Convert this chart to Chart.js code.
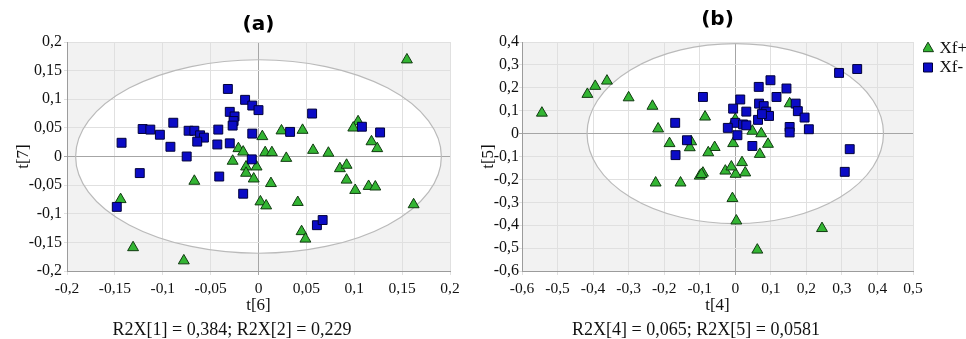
<!DOCTYPE html>
<html>
<head>
<meta charset="utf-8">
<script src="https://cdn.jsdelivr.net/npm/chart.js@4.4.1/dist/chart.umd.min.js"></script>
<style>
body{margin:0;background:#fff;}
#wrap{position:relative;width:966px;height:339px;overflow:hidden;}
canvas{position:absolute;top:0;}
.foot{position:absolute;top:320px;width:400px;text-align:center;font-family:'Liberation Serif';font-size:18px;line-height:18px;color:#111;white-space:nowrap;}
</style>
</head>
<body>
<div id="wrap">
<canvas id="chartA" width="480" height="339" style="left:0"></canvas>
<canvas id="chartB" width="486" height="339" style="left:480px"></canvas>
<div class="foot" style="left:32px">R2X[1] = 0,384; R2X[2] = 0,229</div>
<div class="foot" style="left:496px">R2X[4] = 0,065; R2X[5] = 0,0581</div>
</div>
<script>
// panel (a): t[6] / t[7]
var aGreenX = [0.155, 0.104, 0.099, 0.118, 0.124, 0.024, 0.046, 0.004, -0.021, -0.016, 0.007, 0.014, 0.057, 0.073, 0.029, -0.027, -0.013, -0.002, 0.085, 0.092, 0.092, 0.101, 0.115, 0.122, 0.162, 0.041, 0.002, 0.008, 0.013, -0.005, -0.013, -0.067, -0.144, 0.045, 0.049, -0.131, -0.078];
var aGreenY = [0.169, 0.061, 0.050, 0.026, 0.014, 0.045, 0.046, 0.035, 0.014, 0.008, 0.007, 0.007, 0.011, 0.006, -0.003, -0.008, -0.018, -0.018, -0.021, -0.015, -0.041, -0.059, -0.052, -0.053, -0.084, -0.080, -0.079, -0.086, -0.047, -0.039, -0.029, -0.043, -0.075, -0.131, -0.144, -0.159, -0.182];
var aBlueX = [-0.032, -0.014, -0.0065, 0.0, -0.030, -0.025, -0.026, -0.027, 0.056, -0.089, -0.121, -0.113, -0.103, -0.143, -0.092, -0.073, -0.067, -0.061, -0.057, -0.064, -0.042, -0.043, -0.030, -0.0065, 0.033, 0.108, 0.127, -0.075, -0.007, -0.124, -0.041, -0.016, -0.148, 0.061, 0.067];
var aBlueY = [0.118, 0.099, 0.089, 0.081, 0.078, 0.070, 0.062, 0.054, 0.075, 0.059, 0.048, 0.047, 0.038, 0.024, 0.017, 0.045, 0.045, 0.037, 0.033, 0.026, 0.047, 0.021, 0.023, 0.040, 0.043, 0.052, 0.042, 0.0, -0.005, -0.029, -0.035, -0.065, -0.088, -0.120, -0.111];
var aXTicks = [-0.2, -0.15, -0.1, -0.05, 0, 0.05, 0.1, 0.15, 0.2];
var aYTicks = [-0.2, -0.15, -0.1, -0.05, 0, 0.05, 0.1, 0.15, 0.2];
var aEllipse = [0.191, 0.169];

// panel (b): t[4] / t[5]
var bGreenX = [-0.544, -0.416, -0.394, -0.361, -0.300, -0.233, -0.217, -0.185, -0.124, -0.128, -0.085, -0.058, -0.076, -0.006, 0.000, 0.048, 0.073, 0.092, 0.069, 0.019, 0.153, -0.224, -0.154, -0.100, -0.091, -0.095, -0.028, 0.001, 0.028, -0.008, 0.003, 0.062, 0.244, -0.011];
var bGreenY = [0.090, 0.172, 0.207, 0.230, 0.157, 0.120, 0.021, -0.043, -0.035, -0.061, 0.073, -0.060, -0.083, -0.043, 0.062, 0.011, 0.000, -0.046, -0.090, -0.126, 0.131, -0.215, -0.215, -0.185, -0.172, -0.178, -0.163, -0.177, -0.171, -0.283, -0.381, -0.508, -0.414, -0.145];
var bBlueX = [0.292, 0.343, 0.066, 0.099, 0.144, 0.116, -0.091, 0.014, -0.006, 0.031, 0.067, 0.080, 0.087, 0.095, 0.064, 0.170, 0.176, 0.195, 0.207, 0.153, 0.153, 0.000, -0.021, 0.022, 0.031, 0.006, -0.169, -0.136, -0.168, 0.048, 0.322, 0.308, 0.075];
var bBlueY = [0.265, 0.282, 0.204, 0.233, 0.197, 0.160, 0.160, 0.149, 0.109, 0.096, 0.131, 0.120, 0.096, 0.077, 0.060, 0.131, 0.098, 0.070, 0.019, 0.029, 0.005, 0.047, 0.025, 0.040, 0.036, -0.007, 0.047, -0.029, -0.094, -0.054, -0.068, -0.167, 0.085];
var bXTicks = [-0.6, -0.5, -0.4, -0.3, -0.2, -0.1, 0, 0.1, 0.2, 0.3, 0.4, 0.5];
var bYTicks = [-0.6, -0.5, -0.4, -0.3, -0.2, -0.1, 0, 0.1, 0.2, 0.3, 0.4];
var bEllipse = [0.417, 0.393];

var serif = 'Liberation Serif';

function points(xs, ys) {
    return xs.map(function(x, i) { return {x: x, y: ys[i]}; });
}
function comma(v) {
    return String(v).replace('.', ',');
}
function gridColor(c) {
    return (c.tick && c.tick.value === 0) ? '#a6a6a6' : '#e0e0e0';
}

function traceEllipse(chart, r) {
    var sx = chart.scales.x, sy = chart.scales.y;
    var cx = sx.getPixelForValue(0), cy = sy.getPixelForValue(0);
    var rx = sx.getPixelForValue(r[0]) - cx;
    var ry = cy - sy.getPixelForValue(r[1]);
    chart.ctx.beginPath();
    chart.ctx.ellipse(cx, cy, rx, ry, 0, 0, Math.PI * 2);
}

// grey plot area, white confidence ellipse
var hotelling = {
    id: 'hotelling',
    beforeDraw: function(chart, args, opts) {
        var ctx = chart.ctx, a = chart.chartArea;
        ctx.save();
        ctx.fillStyle = '#f2f2f2';
        ctx.fillRect(a.left, a.top, a.width, a.height);
        traceEllipse(chart, opts.r);
        ctx.fillStyle = '#ffffff';
        ctx.fill();
        ctx.restore();
    },
    beforeDatasetsDraw: function(chart, args, opts) {
        var ctx = chart.ctx;
        ctx.save();
        traceEllipse(chart, opts.r);
        ctx.strokeStyle = '#bababa';
        ctx.lineWidth = 1.2;
        ctx.stroke();
        ctx.restore();
    }
};

function panel(id, o) {
    var scales = {
        x: {
            type: 'linear', position: 'bottom',
            min: o.xTicks[0], max: o.xTicks[o.xTicks.length - 1],
            afterBuildTicks: function(s) { s.ticks = o.xTicks.map(function(v) { return {value: v}; }); },
            afterFit: function(s) { s.height = 68; },
            grid: {color: gridColor, tickLength: 4},
            border: {color: '#9c9c9c'},
            ticks: {padding: 5, maxRotation: 0, autoSkip: false, color: '#111', font: {family: serif, size: 15.5}, callback: comma},
            title: {display: true, text: o.xTitle, color: '#111', font: {family: serif, size: 17, lineHeight: 1}, padding: {top: 0, bottom: 25}}
        },
        y: {
            type: 'linear', position: 'left',
            min: o.yTicks[0], max: o.yTicks[o.yTicks.length - 1],
            afterBuildTicks: function(s) { s.ticks = o.yTicks.map(function(v) { return {value: v}; }); },
            afterFit: function(s) { s.width = o.yWidth; },
            grid: {color: gridColor, tickLength: 3},
            border: {color: '#9c9c9c'},
            ticks: {padding: o.yPad, autoSkip: false, color: '#111', font: {family: serif, size: 16}, callback: comma},
            title: {display: true, text: o.yTitle, color: '#111', font: {family: serif, size: 17, lineHeight: 1}, padding: {top: o.yTitlePad, bottom: 0}}
        }
    };
    if (o.legend) {
        // spacer between plot and legend
        scales.gap = {
            type: 'linear', axis: 'y', position: 'right',
            grid: {display: false, drawTicks: false},
            border: {display: false},
            ticks: {display: false},
            afterFit: function(s) { s.width = 10; }
        };
    }
    return new Chart(document.getElementById(id), {
        type: 'scatter',
        data: {
            datasets: [{
                label: 'Xf+',
                data: points(o.greenX, o.greenY),
                pointStyle: 'triangle', pointRadius: 6.3,
                backgroundColor: '#33b533', borderColor: '#113a11', borderWidth: 1,
                order: 2, xAxisID: 'x', yAxisID: 'y'
            }, {
                label: 'Xf-',
                data: points(o.blueX, o.blueY),
                pointStyle: 'rect', pointRadius: 6.3,
                backgroundColor: '#0b0bc6', borderColor: '#00003a', borderWidth: 1,
                order: 1, xAxisID: 'x', yAxisID: 'y'
            }]
        },
        options: {
            responsive: false,
            animation: false,
            events: [],
            layout: {padding: {left: 0, right: o.padRight, top: 0, bottom: 0}},
            scales: scales,
            plugins: {
                hotelling: {r: o.ellipse},
                tooltip: {enabled: false},
                title: {
                    display: true, text: o.title, fullSize: false, color: '#000',
                    font: {family: 'DejaVu Sans', weight: 'bold', size: 20, lineHeight: 1},
                    padding: o.titlePad
                },
                legend: o.legend ? {
                    display: true, position: 'right', align: 'start', maxWidth: 43,
                    title: {display: true, text: ' ', font: {size: 10, lineHeight: 1.2}, padding: {top: 26, bottom: 0}},
                    labels: {
                        usePointStyle: true, boxWidth: 6, boxHeight: 9, padding: 2, color: '#111',
                        font: {family: serif, size: 17},
                        sort: function(a, b) { return a.datasetIndex - b.datasetIndex; }
                    }
                } : {display: false}
            }
        },
        plugins: [hotelling]
    });
}

panel('chartA', {
    greenX: aGreenX, greenY: aGreenY, blueX: aBlueX, blueY: aBlueY,
    xTicks: aXTicks, yTicks: aYTicks, ellipse: aEllipse,
    xTitle: 't[6]', yTitle: 't[7]', title: '(a)',
    titlePad: {top: 15, bottom: 7},
    yWidth: 67, yPad: 2, yTitlePad: 15, padRight: 30, legend: false
});

panel('chartB', {
    greenX: bGreenX, greenY: bGreenY, blueX: bBlueX, blueY: bBlueY,
    xTicks: bXTicks, yTicks: bYTicks, ellipse: bEllipse,
    xTitle: 't[4]', yTitle: 't[5]', title: '(b)',
    titlePad: {top: 9.5, bottom: 12.5},
    yWidth: 42, yPad: 0, yTitlePad: 0, padRight: 0, legend: true
});
</script>
</body>
</html>
